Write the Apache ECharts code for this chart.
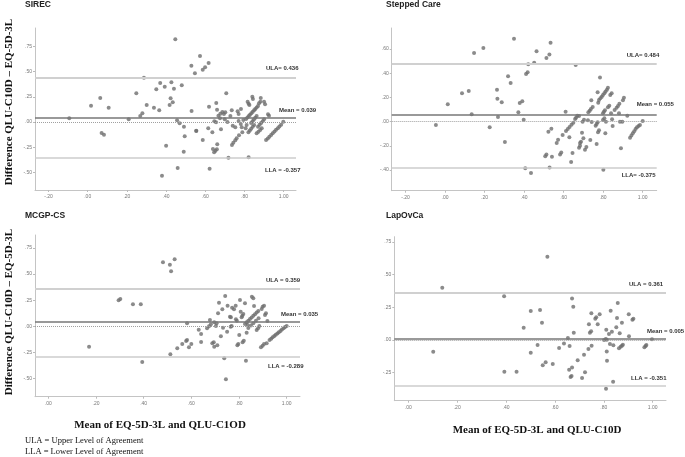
<!DOCTYPE html>
<html><head><meta charset="utf-8">
<script src="https://cdn.jsdelivr.net/npm/echarts@6/dist/echarts.min.js"></script>
<style>html,body{margin:0;padding:0;background:#fff}#c{width:685px;height:457px}</style>
</head><body><div id="c"></div>
<script>
const panelTitles = ['SIREC', 'Stepped Care', 'MCGP-CS', 'LapOvCa'];

const sirecMean = [-0.094,0.017,0.064,0.107,0.071,0.083,0.209,0.248,0.268,0.279,0.287,0.301,0.338,0.350,0.365,0.370,0.393,0.400,0.379,0.418,0.423,0.427,0.434,0.440,0.447,0.456,0.469,0.459,0.480,0.491,0.495,0.490,0.529,0.530,0.547,0.554,0.573,0.587,0.599,0.617,
0.554,0.587,0.622,0.619,0.615,0.636,0.656,0.660,0.646,0.667,0.677,0.687,0.675,0.680,0.655,
0.639,0.645,0.652,0.659,0.661,
0.707,0.695,0.702,0.699,0.718,0.735,0.728,0.713,0.740,0.753,
0.736,0.743,0.753,0.760,0.772,
0.765,0.770,0.782,0.781,0.786,0.789,0.770,0.794,0.806,0.811,0.821,
0.808,0.815,0.822,0.828,0.835,0.842,0.849,0.855,0.862,0.869,
0.816,0.821,0.825,0.840,0.843,
0.834,0.841,0.848,0.855,0.862,
0.820,0.827,0.834,0.842,0.849,
0.874,0.881,0.883,0.900,0.905,
0.869,0.877,0.885,0.893,0.900,
0.862,0.871,0.880,0.888,
0.920,0.925,
0.910,0.919,0.927,0.936,0.944,0.953,0.961,0.970,0.978,0.987,
0.998];
const sirecDiff = [0.037,0.162,0.239,0.142,-0.109,-0.126,0.027,0.285,0.060,0.087,0.441,0.169,0.142,0.325,0.116,0.388,0.351,-0.236,-0.534,0.169,0.236,0.395,0.196,0.331,0.823,0.017,-0.013,-0.458,0.365,-0.047,-0.142,-0.296,0.560,0.109,0.484,-0.087,0.657,0.520,0.544,0.587,
-0.090,-0.179,-0.466,0.152,-0.063,-0.103,0.189,0.122,0.007,0.063,0.083,0.100,0.037,-0.073,-0.003,
-0.269,-0.300,-0.285,-0.270,-0.222,
0.286,0.080,0.097,0.027,-0.355,0.116,0.060,0.000,-0.037,-0.053,
-0.229,-0.206,-0.182,-0.162,-0.132,
0.106,0.080,0.129,-0.020,-0.053,-0.103,0.010,0.020,-0.063,-0.030,-0.351,
0.030,0.045,0.060,0.072,0.088,0.102,0.116,0.130,0.145,0.159,
0.202,0.182,0.169,0.252,0.229,
-0.010,0.008,0.025,0.043,0.060,
-0.103,-0.085,-0.066,-0.048,-0.030,
0.186,0.202,0.239,0.202,0.176,
-0.047,-0.028,-0.010,0.008,0.027,
-0.113,-0.096,-0.080,-0.063,
0.077,0.063,
-0.180,-0.163,-0.146,-0.129,-0.112,-0.095,-0.078,-0.061,-0.044,-0.027,
0.003];

const steppedMean = [-0.046,0.014,0.086,0.120,0.135,0.147,0.194,0.226,0.263,0.265,0.268,0.287,0.303,0.319,0.332,0.349,0.371,0.378,0.391,0.398,0.406,0.410,0.418,0.421,0.435,0.451,0.463,0.513,0.528,0.534,0.507,0.513,0.529,0.523,0.538,0.541,0.565,0.572,0.582,0.588,0.595,0.610,
0.612,0.621,0.630,0.640,0.649,
0.629,0.638,0.645,0.661,0.658,0.663,0.669,0.678,
0.683,0.688,0.678,0.683,0.693,0.696,0.703,0.700,0.708,0.715,0.723,0.725,0.732,0.738,0.735,0.740,0.742,0.747,0.762,0.767,0.767,0.772,0.774,0.779,0.784,0.772,0.775,
0.779,0.786,0.793,0.799,0.806,0.812,0.819,
0.824,0.799,0.804,0.809,0.799,0.806,0.801,0.811,0.814,0.824,0.831,0.836,0.843,0.840,0.845,0.848,0.858,0.868,0.875,0.882,0.880,0.885,0.890,0.897,0.905,0.900,0.922,
0.936,0.943,0.950,0.957,0.964,0.971,0.979,0.986,
1.000];
const steppedDiff = [-0.027,0.144,0.235,0.254,0.061,0.568,0.609,-0.046,0.264,0.190,0.039,0.160,-0.168,0.375,0.320,0.686,0.078,0.155,0.169,0.017,-0.385,0.394,0.408,0.474,-0.424,0.488,0.583,0.526,0.556,0.653,-0.285,-0.270,-0.378,-0.084,-0.058,-0.289,-0.175,-0.150,-0.271,-0.255,-0.110,0.082,
-0.077,-0.060,-0.043,-0.025,-0.008,
-0.129,-0.333,-0.258,0.468,0.022,0.033,0.050,0.047,
-0.176,-0.165,-0.215,-0.198,-0.091,0.000,0.017,-0.137,-0.231,-0.209,0.012,0.078,0.091,0.105,-0.151,0.177,-0.002,0.121,-0.033,-0.019,-0.184,-0.005,-0.088,-0.071,0.366,0.243,0.157,
0.179,0.193,0.207,0.221,0.236,0.250,0.264,
0.281,0.069,0.083,0.094,0.014,0.028,-0.397,-0.096,0.000,0.119,0.132,0.221,0.235,0.069,0.020,-0.036,0.097,0.116,0.130,0.149,0.069,0.000,-0.220,0.000,0.198,0.177,0.050,
-0.132,-0.114,-0.096,-0.078,-0.060,-0.045,-0.036,-0.027,
0.006];

const mcgpMean = [0.171,0.295,0.302,0.355,0.388,0.394,0.481,0.510,0.530,0.515,0.512,0.541,0.562,0.578,0.582,0.582,0.590,0.600,0.631,0.641,0.641,0.666,0.674,0.678,0.682,0.688,0.694,0.696,0.703,0.696,0.706,0.709,0.712,0.716,0.724,0.730,0.733,0.738,0.742,0.745,0.750,0.752,0.762,0.766,0.765,0.769,0.771,0.779,0.786,0.787,0.791,0.793,0.797,0.801,0.804,0.807,0.811,0.814,0.818,0.815,0.820,0.825,0.829,0.832,0.836,
0.825,0.832,0.839,0.846,0.853,0.860,0.867,0.874,0.881,
0.839,0.850,0.860,0.871,0.882,
0.854,0.860,0.863,0.874,0.880,0.885,0.895,0.899,0.905,0.892,0.899,0.905,0.909,0.913,0.916,0.919,
0.928,0.935,0.941,0.948,0.954,0.961,0.967,0.974,0.980,0.987,0.993,1.000];
const mcgpDiff = [-0.195,0.249,0.262,0.211,0.211,-0.342,0.613,0.590,0.642,0.527,-0.268,-0.211,-0.170,-0.141,-0.131,0.029,-0.201,-0.170,-0.032,-0.073,-0.150,-0.019,0.000,0.060,0.019,-0.163,-0.153,-0.195,0.003,0.038,0.029,-0.182,0.125,0.226,-0.096,0.163,-0.013,-0.307,0.290,-0.508,-0.052,0.197,0.092,0.086,-0.004,0.003,0.178,0.163,0.197,0.067,0.054,-0.182,-0.170,-0.083,0.252,0.140,0.086,0.102,0.118,-0.153,-0.138,0.220,-0.329,-0.061,0.012,
0.022,0.038,0.053,0.069,0.084,0.100,0.116,0.131,0.147,
-0.016,0.007,0.030,0.054,0.077,
0.284,0.268,0.194,-0.035,-0.018,0.003,0.166,0.188,0.197,-0.201,-0.186,-0.170,0.108,0.125,-0.163,0.051,
-0.131,-0.119,-0.106,-0.094,-0.081,-0.069,-0.056,-0.044,-0.031,-0.019,-0.006,0.003];

const lapMean = [0.102,0.139,0.392,0.393,0.443,0.472,0.501,0.501,0.529,0.539,0.547,0.550,0.562,0.569,0.591,0.617,0.637,0.653,0.660,0.658,0.664,0.668,0.670,0.670,0.675,0.677,0.693,0.711,0.719,0.723,0.737,0.739,0.743,0.748,0.749,0.750,0.765,0.769,0.775,0.783,0.801,0.808,0.812,0.810,0.812,0.813,0.809,0.821,0.825,0.828,0.833,0.839,0.838,0.851,0.854,0.857,0.862,0.869,0.865,0.874,0.878,0.874,0.902,0.903,0.917,0.921,0.966,0.971,0.974,0.997];
const lapDiff = [-0.089,0.400,0.334,-0.242,-0.242,0.094,0.222,-0.097,-0.038,0.229,0.132,-0.194,-0.171,0.637,-0.184,-0.061,-0.026,0.015,-0.046,-0.227,-0.283,-0.275,-0.211,0.318,0.255,0.056,-0.155,-0.290,-0.112,-0.247,-0.069,0.120,0.056,0.066,0.204,-0.044,0.163,0.173,0.120,0.196,0.000,0.008,0.002,0.079,-0.087,-0.158,-0.372,0.046,-0.031,0.224,0.064,-0.041,-0.319,0.097,0.168,0.283,-0.063,-0.051,0.051,-0.044,-0.036,0.132,0.196,0.028,0.155,0.163,-0.056,-0.046,-0.038,0.005];

const ulaValues = [0.436, 0.484, 0.359, 0.361];
const meanValues = [0.039, 0.055, 0.035, 0.005];
const llaValues = [-0.357, -0.375, -0.289, -0.351];
const ulaLabels = ['ULA= 0.436', 'ULA= 0.484', 'ULA = 0.359', 'ULA = 0.361'];
const meanLabels = ['Mean = 0.039', 'Mean = 0.055', 'Mean = 0.035', 'Mean = 0.005'];
const llaLabels = ['LLA = -0.357', 'LLA= -0.375', 'LLA = -0.289', 'LLA = -0.351'];

const xTickValues = [
  [-0.2, 0, 0.2, 0.4, 0.6, 0.8, 1.0],
  [-0.2, 0, 0.2, 0.4, 0.6, 0.8, 1.0],
  [0, 0.2, 0.4, 0.6, 0.8, 1.0],
  [0, 0.2, 0.4, 0.6, 0.8, 1.0]
];
const yTickValues = [
  [-0.5, -0.25, 0, 0.25, 0.5, 0.75],
  [-0.4, -0.2, 0, 0.2, 0.4, 0.6],
  [-0.5, -0.25, 0, 0.25, 0.5, 0.75],
  [-0.25, 0, 0.25, 0.5, 0.75]
];
const xRange = [[-0.2689, 1.0628], [-0.2696, 1.0708], [-0.0558, 1.0558], [-0.0573, 1.0544]];
const yRange = [[-0.6766, 0.9353], [-0.5702, 0.7744], [-0.6743, 0.8745], [-0.4641, 0.7898]];

const yTitle = 'Difference QLU-C10D – EQ-5D-3L';
const xTitles = ['Mean of EQ-5D-3L and QLU-C1OD', 'Mean of EQ-5D-3L and QLU-C10D'];
const notes = ['ULA = Upper Level of Agreement', 'LLA = Lower Level of Agreement'];

/* layout (styles only) */
const grids = [
  {left: 35, top: 28, width: 261, height: 162},
  {left: 391.7, top: 28, width: 265, height: 162.7},
  {left: 35, top: 235, width: 265, height: 161.7},
  {left: 394.3, top: 236.7, width: 271.7, height: 164}
];
const titlePos = [[25, 5], [386, 5], [25, 216], [386, 216]];
const labelOffsets = [
  [[-30, -10], [-17, -8], [-31, 12]],
  [[-30, -7.4], [-20, -10.7], [-35, 8.7]],
  [[-34, -8], [-19, -8.3], [-32, 9.5]],
  [[-37, -8], [-19, -8.3], [-35, -7.6]]
];

const means = [sirecMean, steppedMean, mcgpMean, lapMean];
const diffs = [sirecDiff, steppedDiff, mcgpDiff, lapDiff];

function fmt(v) {
  let s = v.toFixed(2);
  if (Math.abs(v) < 1) s = s.replace('0.', '.');
  return s;
}

const chart = echarts.init(document.getElementById('c'), null, {renderer: 'canvas'});
const sansFont = '"Liberation Sans", Arial, sans-serif';
const serifFont = '"Liberation Serif", "Times New Roman", serif';

const option = {
  animation: false,
  backgroundColor: '#ffffff',
  grid: grids.map(g => Object.assign({containLabel: false}, g)),
  xAxis: grids.map((g, i) => ({
    type: 'value', gridIndex: i, min: xRange[i][0], max: xRange[i][1],
    axisLine: {show: true, onZero: false, lineStyle: {color: '#c4c4c4', width: 1}},
    axisTick: {show: true, length: 2, customValues: xTickValues[i], lineStyle: {color: '#bbbbbb'}},
    axisLabel: {customValues: xTickValues[i], formatter: fmt, fontSize: 5, color: '#777', margin: 4, fontFamily: sansFont},
    splitLine: {show: false}
  })),
  yAxis: grids.map((g, i) => ({
    type: 'value', gridIndex: i, min: yRange[i][0], max: yRange[i][1],
    axisLine: {show: true, onZero: false, lineStyle: {color: '#c4c4c4', width: 1}},
    axisTick: {show: true, length: 2, customValues: yTickValues[i], lineStyle: {color: '#bbbbbb'}},
    axisLabel: {customValues: yTickValues[i], formatter: fmt, fontSize: 5, color: '#777', margin: 3, fontFamily: sansFont},
    splitLine: {show: false}
  })),
  series: grids.map((g, i) => ({
    type: 'scatter', xAxisIndex: i, yAxisIndex: i,
    symbol: 'circle', symbolSize: 4,
    itemStyle: {color: '#6e6e6e'},
    data: means[i].map((m, k) => [m, diffs[i][k]]),
    z: 3,
    markLine: {
      silent: true, symbol: ['none', 'none'], animation: false,
      label: {show: false},
      data: [
        {yAxis: 0, lineStyle: {type: 'dotted', color: '#a0a0a0', width: 1}},
        {yAxis: ulaValues[i], lineStyle: {type: 'solid', color: '#d0d0d0', width: 2}},
        {yAxis: meanValues[i], lineStyle: {type: 'solid', color: '#777777', width: 1.5}},
        {yAxis: llaValues[i], lineStyle: {type: 'solid', color: '#cccccc', width: 1.5}}
      ]
    }
  }))
};
chart.setOption(option);

const graphics = [];
panelTitles.forEach((t, i) => {
  graphics.push({type: 'text', x: titlePos[i][0], y: titlePos[i][1],
    style: {text: t, font: 'bold 8.5px ' + sansFont, fill: '#222', align: 'left', verticalAlign: 'middle', textAlign: 'left', textVerticalAlign: 'middle'}});
});
[[9, 102], [9, 312]].forEach(p => {
  graphics.push({type: 'text', x: p[0], y: p[1], rotation: Math.PI / 2,
    style: {text: yTitle, font: 'bold 11px ' + serifFont, fill: '#111', align: 'center', verticalAlign: 'middle', textAlign: 'center', textVerticalAlign: 'middle'}});
});
[[160, 425.5], [537, 430]].forEach((p, k) => {
  graphics.push({type: 'text', x: p[0], y: p[1],
    style: {text: xTitles[k], font: 'bold 11px ' + serifFont, fill: '#111', align: 'center', verticalAlign: 'middle', textAlign: 'center', textVerticalAlign: 'middle'}});
});
[[25, 441], [25, 451.5]].forEach((p, k) => {
  graphics.push({type: 'text', x: p[0], y: p[1],
    style: {text: notes[k], font: '8.5px ' + serifFont, fill: '#111', align: 'left', verticalAlign: 'middle', textAlign: 'left', textVerticalAlign: 'middle'}});
});
for (let i = 0; i < 4; i++) {
  const vals = [ulaValues[i], meanValues[i], llaValues[i]];
  const texts = [ulaLabels[i], meanLabels[i], llaLabels[i]];
  vals.forEach((v, k) => {
    const p = chart.convertToPixel({xAxisIndex: i, yAxisIndex: i}, [xRange[i][1], v]);
    graphics.push({type: 'text', x: p[0] + labelOffsets[i][k][0], y: p[1] + labelOffsets[i][k][1],
      style: {text: texts[k], font: 'bold 6px ' + sansFont, fill: '#333', align: 'left', verticalAlign: 'middle', textAlign: 'left', textVerticalAlign: 'middle'}});
  });
}
chart.setOption({graphic: {elements: graphics}});
</script>
</body></html>
